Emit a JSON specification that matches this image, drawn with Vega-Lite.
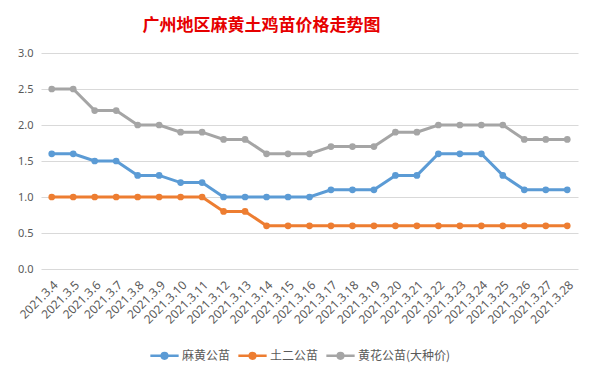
{
  "$schema": "https://vega.github.io/schema/vega-lite/v6.json",
  "autosize": "none",
  "width": 537,
  "height": 216,
  "padding": {"left": 41, "top": 53, "right": 17, "bottom": 100},
  "background": "white",
  "title": {
    "text": "广州地区麻黄土鸡苗价格走势图",
    "color": "#E60000",
    "font": "Noto Sans CJK SC",
    "fontSize": 17,
    "fontWeight": "bold",
    "anchor": "middle",
    "frame": "group",
    "dx": -48,
    "offset": 12
  },
  "config": {
    "view": {"stroke": null},
    "font": "Noto Sans CJK SC"
  },
  "data": {
    "values": [
      {"date": "2021.3.4", "series": "麻黄公苗", "value": 1.6},
      {"date": "2021.3.5", "series": "麻黄公苗", "value": 1.6},
      {"date": "2021.3.6", "series": "麻黄公苗", "value": 1.5},
      {"date": "2021.3.7", "series": "麻黄公苗", "value": 1.5},
      {"date": "2021.3.8", "series": "麻黄公苗", "value": 1.3},
      {"date": "2021.3.9", "series": "麻黄公苗", "value": 1.3},
      {"date": "2021.3.10", "series": "麻黄公苗", "value": 1.2},
      {"date": "2021.3.11", "series": "麻黄公苗", "value": 1.2},
      {"date": "2021.3.12", "series": "麻黄公苗", "value": 1.0},
      {"date": "2021.3.13", "series": "麻黄公苗", "value": 1.0},
      {"date": "2021.3.14", "series": "麻黄公苗", "value": 1.0},
      {"date": "2021.3.15", "series": "麻黄公苗", "value": 1.0},
      {"date": "2021.3.16", "series": "麻黄公苗", "value": 1.0},
      {"date": "2021.3.17", "series": "麻黄公苗", "value": 1.1},
      {"date": "2021.3.18", "series": "麻黄公苗", "value": 1.1},
      {"date": "2021.3.19", "series": "麻黄公苗", "value": 1.1},
      {"date": "2021.3.20", "series": "麻黄公苗", "value": 1.3},
      {"date": "2021.3.21", "series": "麻黄公苗", "value": 1.3},
      {"date": "2021.3.22", "series": "麻黄公苗", "value": 1.6},
      {"date": "2021.3.23", "series": "麻黄公苗", "value": 1.6},
      {"date": "2021.3.24", "series": "麻黄公苗", "value": 1.6},
      {"date": "2021.3.25", "series": "麻黄公苗", "value": 1.3},
      {"date": "2021.3.26", "series": "麻黄公苗", "value": 1.1},
      {"date": "2021.3.27", "series": "麻黄公苗", "value": 1.1},
      {"date": "2021.3.28", "series": "麻黄公苗", "value": 1.1},
      {"date": "2021.3.4", "series": "土二公苗", "value": 1.0},
      {"date": "2021.3.5", "series": "土二公苗", "value": 1.0},
      {"date": "2021.3.6", "series": "土二公苗", "value": 1.0},
      {"date": "2021.3.7", "series": "土二公苗", "value": 1.0},
      {"date": "2021.3.8", "series": "土二公苗", "value": 1.0},
      {"date": "2021.3.9", "series": "土二公苗", "value": 1.0},
      {"date": "2021.3.10", "series": "土二公苗", "value": 1.0},
      {"date": "2021.3.11", "series": "土二公苗", "value": 1.0},
      {"date": "2021.3.12", "series": "土二公苗", "value": 0.8},
      {"date": "2021.3.13", "series": "土二公苗", "value": 0.8},
      {"date": "2021.3.14", "series": "土二公苗", "value": 0.6},
      {"date": "2021.3.15", "series": "土二公苗", "value": 0.6},
      {"date": "2021.3.16", "series": "土二公苗", "value": 0.6},
      {"date": "2021.3.17", "series": "土二公苗", "value": 0.6},
      {"date": "2021.3.18", "series": "土二公苗", "value": 0.6},
      {"date": "2021.3.19", "series": "土二公苗", "value": 0.6},
      {"date": "2021.3.20", "series": "土二公苗", "value": 0.6},
      {"date": "2021.3.21", "series": "土二公苗", "value": 0.6},
      {"date": "2021.3.22", "series": "土二公苗", "value": 0.6},
      {"date": "2021.3.23", "series": "土二公苗", "value": 0.6},
      {"date": "2021.3.24", "series": "土二公苗", "value": 0.6},
      {"date": "2021.3.25", "series": "土二公苗", "value": 0.6},
      {"date": "2021.3.26", "series": "土二公苗", "value": 0.6},
      {"date": "2021.3.27", "series": "土二公苗", "value": 0.6},
      {"date": "2021.3.28", "series": "土二公苗", "value": 0.6},
      {"date": "2021.3.4", "series": "黄花公苗(大种价)", "value": 2.5},
      {"date": "2021.3.5", "series": "黄花公苗(大种价)", "value": 2.5},
      {"date": "2021.3.6", "series": "黄花公苗(大种价)", "value": 2.2},
      {"date": "2021.3.7", "series": "黄花公苗(大种价)", "value": 2.2},
      {"date": "2021.3.8", "series": "黄花公苗(大种价)", "value": 2.0},
      {"date": "2021.3.9", "series": "黄花公苗(大种价)", "value": 2.0},
      {"date": "2021.3.10", "series": "黄花公苗(大种价)", "value": 1.9},
      {"date": "2021.3.11", "series": "黄花公苗(大种价)", "value": 1.9},
      {"date": "2021.3.12", "series": "黄花公苗(大种价)", "value": 1.8},
      {"date": "2021.3.13", "series": "黄花公苗(大种价)", "value": 1.8},
      {"date": "2021.3.14", "series": "黄花公苗(大种价)", "value": 1.6},
      {"date": "2021.3.15", "series": "黄花公苗(大种价)", "value": 1.6},
      {"date": "2021.3.16", "series": "黄花公苗(大种价)", "value": 1.6},
      {"date": "2021.3.17", "series": "黄花公苗(大种价)", "value": 1.7},
      {"date": "2021.3.18", "series": "黄花公苗(大种价)", "value": 1.7},
      {"date": "2021.3.19", "series": "黄花公苗(大种价)", "value": 1.7},
      {"date": "2021.3.20", "series": "黄花公苗(大种价)", "value": 1.9},
      {"date": "2021.3.21", "series": "黄花公苗(大种价)", "value": 1.9},
      {"date": "2021.3.22", "series": "黄花公苗(大种价)", "value": 2.0},
      {"date": "2021.3.23", "series": "黄花公苗(大种价)", "value": 2.0},
      {"date": "2021.3.24", "series": "黄花公苗(大种价)", "value": 2.0},
      {"date": "2021.3.25", "series": "黄花公苗(大种价)", "value": 2.0},
      {"date": "2021.3.26", "series": "黄花公苗(大种价)", "value": 1.8},
      {"date": "2021.3.27", "series": "黄花公苗(大种价)", "value": 1.8},
      {"date": "2021.3.28", "series": "黄花公苗(大种价)", "value": 1.8}
    ]
  },
  "mark": {"type": "line", "strokeWidth": 3, "point": {"size": 45, "filled": true, "opacity": 1}},
  "encoding": {
    "x": {
      "field": "date",
      "type": "ordinal",
      "sort": ["2021.3.4","2021.3.5","2021.3.6","2021.3.7","2021.3.8","2021.3.9","2021.3.10","2021.3.11","2021.3.12","2021.3.13","2021.3.14","2021.3.15","2021.3.16","2021.3.17","2021.3.18","2021.3.19","2021.3.20","2021.3.21","2021.3.22","2021.3.23","2021.3.24","2021.3.25","2021.3.26","2021.3.27","2021.3.28"],
      "scale": {"type": "point", "padding": 0.5},
      "axis": {
        "title": null,
        "labelAngle": -45,
        "labelFontSize": 12,
        "labelColor": "#595959",
        "labelFont": "Noto Sans",
        "ticks": false,
        "domain": false,
        "labelPadding": 10
      }
    },
    "y": {
      "field": "value",
      "type": "quantitative",
      "scale": {"domain": [0, 3]},
      "axis": {
        "title": null,
        "values": [0, 0.5, 1, 1.5, 2, 2.5, 3],
        "format": ".1f",
        "labelFontSize": 11,
        "labelColor": "#595959",
        "labelFont": "Noto Sans",
        "ticks": false,
        "domain": false,
        "gridColor": "#D9D9D9",
        "labelPadding": 8
      }
    },
    "color": {
      "field": "series",
      "type": "nominal",
      "scale": {
        "domain": ["麻黄公苗", "土二公苗", "黄花公苗(大种价)"],
        "range": ["#5B9BD5", "#ED7D31", "#A5A5A5"]
      },
      "legend": {
        "title": null,
        "orient": "none",
        "direction": "horizontal",
        "legendX": 108,
        "legendY": 287,
        "labelFontSize": 12,
        "labelColor": "#595959",
        "symbolType": "M-1,0H1M-0.2,0A0.2,0.2 0 1 1 0.2,0A0.2,0.2 0 1 1 -0.2,0",
        "symbolSize": 800,
        "symbolStrokeWidth": 2.5,
        "columnPadding": 2,
        "labelOffset": 2
      }
    }
  }
}
